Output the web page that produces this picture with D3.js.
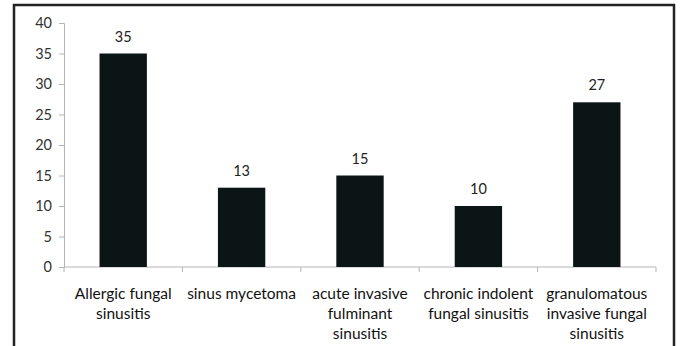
<!DOCTYPE html>
<html>
<head>
<meta charset="utf-8">
<script src="https://cdn.jsdelivr.net/npm/d3@7"></script>
<style>
  html, body { margin: 0; padding: 0; background: #fff; }
  svg { display: block; }
  text { font-family: Lato, "Open Sans", sans-serif; }
</style>
</head>
<body>
<script>
// Fungal sinusitis cases by type
const categories = [
  "Allergic fungal sinusitis",
  "sinus mycetoma",
  "acute invasive fulminant sinusitis",
  "chronic indolent fungal sinusitis",
  "granulomatous invasive fungal sinusitis"
];
const categoryLines = [
  ["Allergic fungal", "sinusitis"],
  ["sinus mycetoma"],
  ["acute invasive", "fulminant", "sinusitis"],
  ["chronic indolent", "fungal sinusitis"],
  ["granulomatous", "invasive fungal", "sinusitis"]
];
const values = [35, 13, 15, 10, 27];
const yTicks = [0, 5, 10, 15, 20, 25, 30, 35, 40];

const W = 681, H = 346;
const svg = d3.select("body").append("svg").attr("width", W).attr("height", H);

// outer frame (bottom edge falls outside the view)
svg.append("rect")
  .attr("x", 14).attr("y", 5)
  .attr("width", 660).attr("height", 360)
  .attr("fill", "none").attr("stroke", "#222").attr("stroke-width", 2.5);

const plot = { left: 64, right: 656, top: 23, bottom: 267 };

const x = d3.scaleBand().domain(categories).range([plot.left, plot.right]).paddingInner(0.6).paddingOuter(0.3);
const xBand = d3.scaleBand().domain(categories).range([plot.left, plot.right]);
const y = d3.scaleLinear().domain([0, 40]).range([plot.bottom, plot.top]);

// y axis
const yAxis = svg.append("g").attr("transform", `translate(${plot.left},0)`)
  .call(d3.axisLeft(y).tickValues(yTicks).tickSize(5).tickPadding(7));
yAxis.select(".domain").attr("stroke", "#b5b5b5");
yAxis.selectAll(".tick line").attr("stroke", "#b5b5b5");
yAxis.selectAll(".tick text").attr("font-size", 14.5).attr("fill", "#333")
  .style("font-family", "Lato, 'Open Sans', sans-serif");

// x axis baseline with category separators
const xg = svg.append("g");
xg.append("line")
  .attr("x1", plot.left).attr("x2", plot.right)
  .attr("y1", plot.bottom).attr("y2", plot.bottom)
  .attr("stroke", "#b5b5b5");
const seps = categories.map(c => xBand(c)).concat([plot.right]);
xg.selectAll("line.sep").data(seps).join("line").attr("class", "sep")
  .attr("x1", d => d).attr("x2", d => d)
  .attr("y1", plot.bottom).attr("y2", plot.bottom + 5)
  .attr("stroke", "#b5b5b5");

// bars
svg.selectAll("rect.bar").data(values).join("rect").attr("class", "bar")
  .attr("x", (d, i) => x(categories[i]))
  .attr("width", x.bandwidth())
  .attr("y", d => y(d))
  .attr("height", d => y(0) - y(d))
  .attr("fill", "#0b1516");

// value labels
svg.selectAll("text.val").data(values).join("text").attr("class", "val")
  .attr("x", (d, i) => x(categories[i]) + x.bandwidth() / 2)
  .attr("y", d => y(d) - 12)
  .attr("text-anchor", "middle")
  .attr("font-size", 14.5).attr("fill", "#222")
  .text(d => d);

// category labels
const lbl = svg.selectAll("text.cat").data(categoryLines).join("text").attr("class", "cat")
  .attr("text-anchor", "middle")
  .attr("font-size", 15.5).attr("fill", "#111")
  .attr("transform", (d, i) => `translate(${xBand(categories[i]) + xBand.bandwidth() / 2},${plot.bottom + 32})`);
lbl.selectAll("tspan").data(d => d).join("tspan")
  .attr("x", 0).attr("y", (d, j) => j * 20)
  .text(d => d);
</script>
</body>
</html>
